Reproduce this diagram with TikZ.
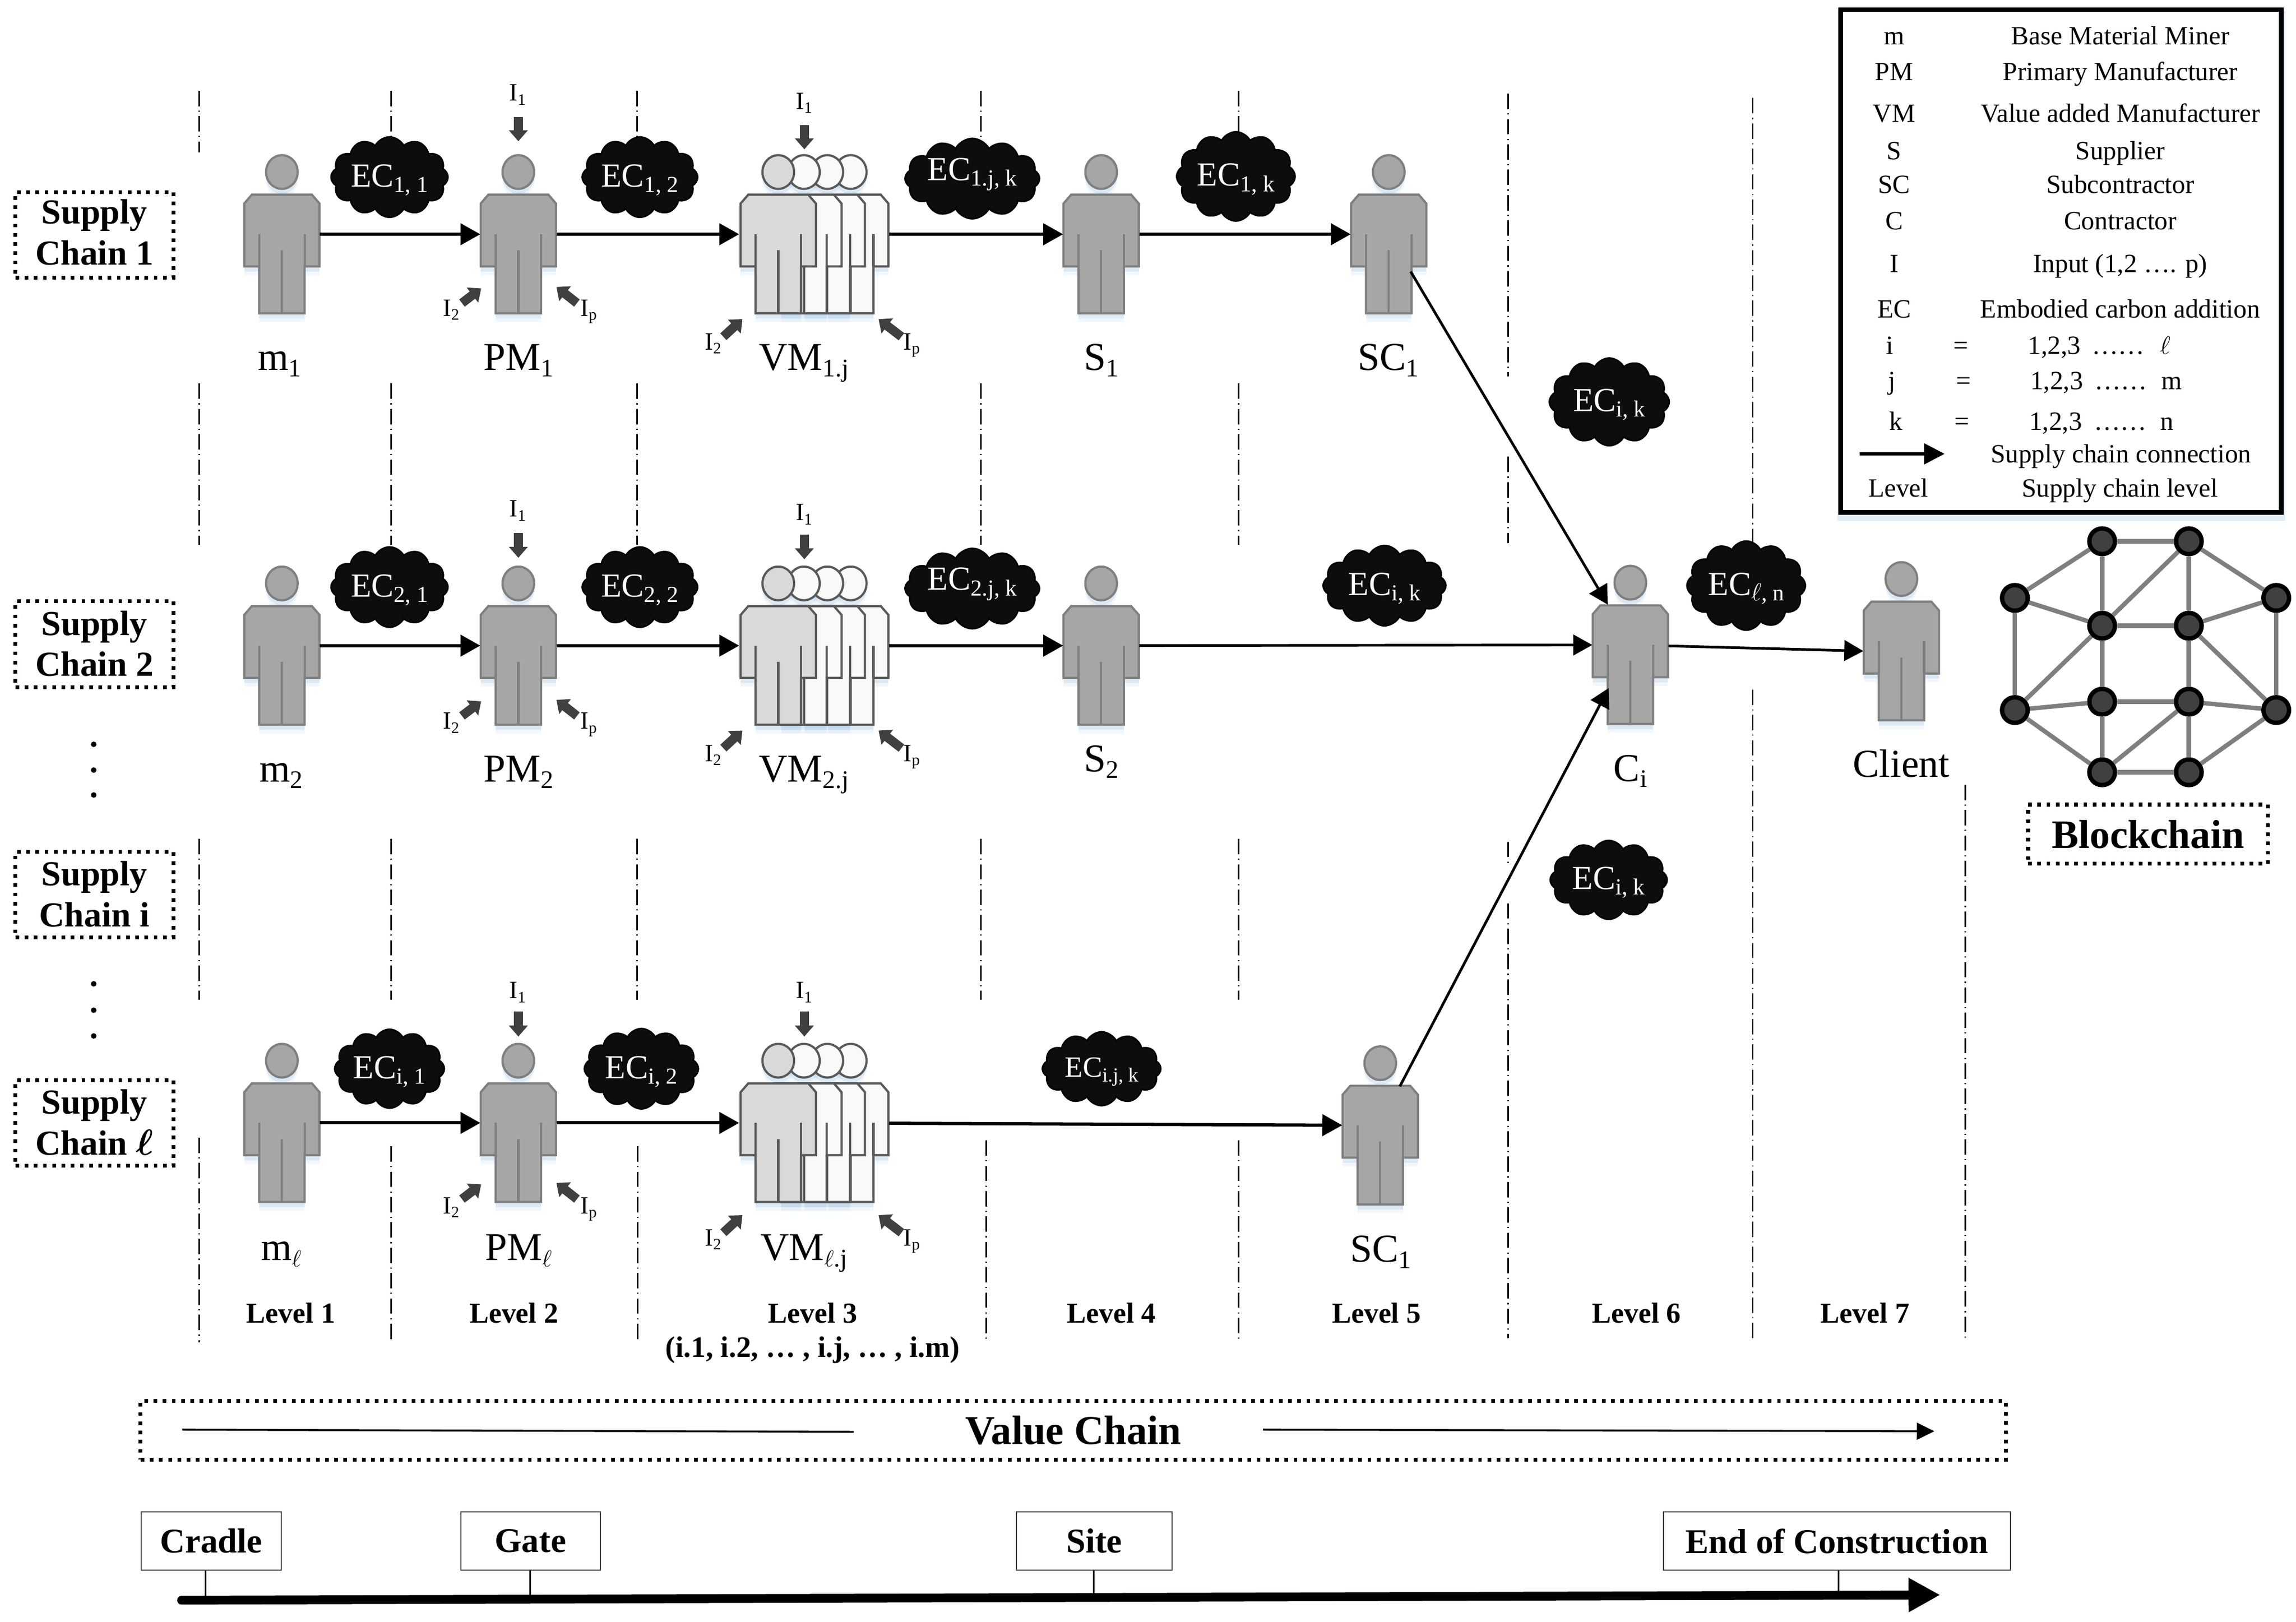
\documentclass[tikz,border=0pt]{standalone}
\usepackage{fontspec}
\setmainfont{Liberation Serif}
\usetikzlibrary{arrows.meta,shapes.symbols}
\definecolor{glow}{HTML}{9DC3E6}
\definecolor{figfill}{HTML}{A6A6A6}
\definecolor{figline}{HTML}{7F7F7F}
\definecolor{frontfill}{HTML}{D9D9D9}
\definecolor{backfill}{HTML}{F9F9F9}
\definecolor{grpline}{HTML}{595959}
\definecolor{inarrow}{HTML}{404040}
\newcommand\fs[1]{\fontsize{#1}{#1}\selectfont}
\newcommand\sbs[1]{\raisebox{-.16em}{\scalebox{.64}{#1}}}
\newcommand\ecsub[1]{\raisebox{-.16em}{\scalebox{.68}{#1}}}
\newcommand\figpath{(-20.5,27) -- (20.5,27) -- (25.7,33) -- (25.7,76) -- (15.5,76) -- (15.5,108) -- (-15.5,108) -- (-15.5,76) -- (-25.7,76) -- (-25.7,33) -- cycle (0,11.5) ellipse [x radius=10.8pt,y radius=11.5pt]}
\newcommand\figglow[2]{%
  \begin{scope}[shift={(#1,#2)}]
    \fill[glow,opacity=.13,shift={(0,6)}] \figpath;
    \fill[glow,opacity=.25,shift={(0,3.5)}] \figpath;
  \end{scope}}
\newcommand\figbody[4]{%
  \begin{scope}[shift={(#1,#2)}]
    \draw[fill=#3,draw=#4,line width=1.5pt,line join=miter] \figpath;
    \draw[draw=#4,line width=1.5pt] (-15.5,54) -- (-15.5,76) (15.5,54) -- (15.5,76) (0,65) -- (0,108);
  \end{scope}}
\newcommand\person[3]{%
  \figglow{#2}{#3}
  \figbody{#2}{#3}{figfill}{figline}
  \node[inner sep=0pt,outer sep=0pt,minimum width=52pt,minimum height=108pt] (#1) at (#2,#3+54) {};}
\newcommand\group[2]{%
  \figglow{581}{#2}\figglow{565}{#2}\figglow{549}{#2}\figglow{531.5}{#2}
  \figbody{581}{#2}{backfill}{grpline}
  \figbody{565}{#2}{backfill}{grpline}
  \figbody{549}{#2}{backfill}{grpline}
  \figbody{531.5}{#2}{frontfill}{grpline}
  \node[inner sep=0pt,outer sep=0pt,minimum width=102.5pt,minimum height=108pt] (#1) at (556,#2+54) {};}
\newcommand\ecloud[7]{\node[ecshape,minimum width=#4pt,minimum height=#5pt,label={[eclabel,#6]center:EC\ecsub{#7}}] (#1) at (#2,#3) {};}
\newcommand\vl[3]{\draw[levelline] (#1,#2) -- (#1,#3);}
\newcommand\inarr[5]{%
  \coordinate (#1a) at (#2,#3);
  \coordinate (#1b) at (#4,#5);
  \draw[inarr] (#1a) -- (#1b);}
% key, bottom offset, arrow y1, arrow y2, I1 baseline, I2/Ip baseline
\newcommand\pminputs[6]{%
  \inarr{#1d}{354}{#3}{354}{#4}
  \inarr{#1l}{315.5}{207+#2}{328.6}{197+#2}
  \inarr{#1r}{394}{207+#2}{380}{196+#2}
  \node[ilabel] (#1ione) at (353.5,#5) {I\sbs{1}};
  \node[ilabel] (#1itwo) at (308,#6) {I\sbs{2}};
  \node[ilabel] (#1ip) at (402,#6) {I\sbs{p}};}
\newcommand\vminputs[6]{%
  \inarr{#1d}{549.3}{#3}{549.3}{#4}
  \inarr{#1l}{494}{230+#2}{507}{218+#2}
  \inarr{#1r}{615.6}{230+#2}{600}{218+#2}
  \node[ilabel] (#1ione) at (549,#5) {I\sbs{1}};
  \node[ilabel] (#1itwo) at (487,#6) {I\sbs{2}};
  \node[ilabel] (#1ip) at (622.6,#6) {I\sbs{p}};}
\newcommand\lgrow[3]{%
  \node[lgtext] (lgl#1) at (1293.6,#1+6) {#2};
  \node[lgtext] (lgr#1) at (1448,#1+6) {#3};}
\newcommand\lgeq[8]{%
  \node[lgtext] (lge#1a) at (#2,#1+6) {#3};
  \node[lgtext] (lge#1b) at (#4,#1+6) {=};
  \node[lgtext] (lge#1c) at (#5,#1+6) {1,2,3};
  \node[lgtext] (lge#1d) at (#6,#1+6) {……};
  \node[lgtext] (lge#1e) at (#7,#1+6) {#8};}
\tikzset{
  conn/.style={line width=2.2pt,-{Triangle[length=13.5pt,width=14.5pt]}},
  connthin/.style={line width=1.8pt,-{Triangle[length=13pt,width=14pt]}},
  levelline/.style={line width=1pt,dash pattern=on 10.5pt off 3pt on .8pt off 3pt},
  ecshape/.style={cloud,cloud puffs=12,cloud puff arc=125,cloud ignores aspect,fill=black!95,draw=black,line width=1pt,inner sep=0pt},
  eclabel/.style={text=white,font=\fs{23},inner sep=0pt,yshift=-2pt},
  inarr/.style={line width=6.2pt,draw=inarrow,-{Triangle[length=7.5pt,width=12.5pt]}},
  ilabel/.style={anchor=base,font=\fs{17},inner sep=0pt},
  whois/.style={anchor=base,font=\fs{27},inner sep=0pt},
  levellabel/.style={anchor=base,font=\fs{19.7}\bfseries,inner sep=0pt},
  lgtext/.style={anchor=base,font=\fs{18},inner sep=0pt},
  dotbox/.style={draw=black,line width=2.6pt,dash pattern=on 2.5pt off 3.8pt,inner sep=0pt},
  chainbox/.style={dotbox,font=\fontsize{24}{28}\selectfont\bfseries,align=center,minimum width=108pt,minimum height=58.5pt},
  stagebox/.style={draw=black!75,line width=.7pt,font=\fs{23.7}\bfseries,minimum height=40pt,inner sep=0pt},
  stagetick/.style={line width=1.2pt},
  bnode/.style={circle,fill=inarrow,draw=black,line width=3pt,minimum size=17.5pt,inner sep=0pt},
  bedge/.style={line width=3pt,draw=figline},
}
\begin{document}
\begin{tikzpicture}[x=1pt,y=-1pt]
\useasboundingbox (0,0) rectangle (1568,1107.6);
\fill[white] (0,0) rectangle (1568,1107.6);

% level separators
\foreach \xx in {136,267,435,670,846} {\vl{\xx}{62}{104}\vl{\xx}{262}{372}\vl{\xx}{573}{683}}
\vl{136}{777}{917}\vl{267}{783}{915}\vl{435.5}{783}{916}\vl{673.5}{779}{916}\vl{846}{779}{916}
\vl{1030}{64}{257}\vl{1030}{312}{371}\vl{1030}{575}{590}\vl{1030}{617}{914}
\vl{1197}{67}{376}\vl{1197}{471}{916}
\vl{1342}{536}{916}

% supply chain labels
\node[chainbox] (chainA) at (64.5,160.5) {Supply\\Chain 1\rule[-4pt]{0pt}{0pt}};
\node[chainbox] (chainB) at (64.5,440) {Supply\\Chain 2\rule[-1pt]{0pt}{0pt}};
\node[chainbox] (chainC) at (64.5,611) {Supply\\Chain i\rule[-1pt]{0pt}{0pt}};
\node[chainbox] (chainD) at (64.5,767) {Supply\\Chain {\boldmath$\ell$}\rule[-1pt]{0pt}{0pt}};
\foreach \yy in {508.4,526,543,672,690,707.6} {\fill (64,\yy) circle [radius=1.9pt];}

% row 1
\person{mA}{192.5}{106}
\person{pmA}{354}{106}
\group{vmA}{106}
\person{sA}{752}{106}
\person{scA}{948.4}{106}
% row 2
\person{mB}{192.5}{387}
\person{pmB}{354}{387}
\group{vmB}{387}
\person{sB}{752}{387}
\person{cI}{1113.4}{386.5}
\person{client}{1298.5}{384}
% row 3
\person{mC}{192.5}{713}
\person{pmC}{354}{713}
\group{vmC}{713}
\person{scC}{942.6}{714.7}

% free ends of the slanted links
\coordinate (scAout) at (963.4,185.5);
\coordinate (cItop) at (1098,413);
\coordinate (scCout) at (956,742);
\coordinate (cIside) at (1098.6,470);
\coordinate (clientin) at (1272.5,444.7);

% connections
\draw[conn] (mA) -- (pmA);
\draw[conn] (pmA) -- (vmA);
\draw[conn] (vmA) -- (sA);
\draw[conn] (sA) -- (scA);
\draw[conn] (mB) -- (pmB);
\draw[conn] (pmB) -- (vmB);
\draw[conn] (vmB) -- (sB);
\draw[connthin] (sB) -- (cI);
\draw[connthin] (cI) -- (clientin);
\draw[conn] (mC) -- (pmC);
\draw[conn] (pmC) -- (vmC);
\draw[conn] (vmC) -- (scC);
\draw[connthin] (scAout) -- (cItop);
\draw[connthin] (scCout) -- (cIside);

% inputs
\pminputs{pA}{0}{80}{96.5}{69}{216}
\pminputs{pB}{282}{364}{381}{353}{498}
\pminputs{pC}{612}{691}{708}{682}{829}
\vminputs{vA}{0}{85.5}{102}{74.6}{239}
\vminputs{vB}{281}{365}{382}{355.6}{520}
\vminputs{vC}{612}{691}{708}{682}{851}

% clouds
\ecloud{ecA}{266}{121}{80}{55}{}{1, 1}
\ecloud{ecB}{437}{121}{79}{55}{}{1, 2}
\ecloud{ecC}{664}{122}{92}{55}{yshift=5pt}{1.j, k}
\ecloud{ecD}{844}{120.5}{81}{61}{}{1, k}
\ecloud{ecE}{1099}{274.5}{82}{60}{}{i, k}
\ecloud{ecF}{266}{401}{80}{55}{}{2, 1}
\ecloud{ecG}{437}{401}{79}{55}{}{2, 2}
\ecloud{ecH}{664}{402}{92}{55}{yshift=5pt}{2.j, k}
\ecloud{ecI}{945.5}{400}{84}{55}{}{i, k}
\ecloud{ecJ}{1192.5}{400}{81}{61}{}{$\ell$, n}
\ecloud{ecK}{1098.6}{601}{80}{54}{}{i, k}
\ecloud{ecL}{266}{730}{75}{54}{}{i, 1}
\ecloud{ecM}{438}{730}{78}{55}{}{i, 2}
\ecloud{ecN}{752.3}{730}{81}{50.5}{font=\fs{20}}{i.j, k}

% actor labels
\node[whois] (tmA) at (191,253) {m\sbs{1}};
\node[whois] (tpA) at (354,253) {PM\sbs{1}};
\node[whois] (tvA) at (549,253) {VM\sbs{1.j}};
\node[whois] (tsA) at (752,253) {S\sbs{1}};
\node[whois] (tcA) at (948,253) {SC\sbs{1}};
\node[whois] (tmB) at (192,534) {m\sbs{2}};
\node[whois] (tpB) at (354,534) {PM\sbs{2}};
\node[whois] (tvB) at (549,534) {VM\sbs{2.j}};
\node[whois] (tsB) at (752,527) {S\sbs{2}};
\node[whois] (tcI) at (1113.4,533.5) {C\sbs{i}};
\node[whois] (tcl) at (1298.5,530.7) {Client};
\node[whois] (tmC) at (192,861) {m\sbs{$\ell$}};
\node[whois] (tpC) at (354,861) {PM\sbs{$\ell$}};
\node[whois] (tvC) at (549,861) {VM\sbs{$\ell$.j}};
\node[whois] (tcC) at (943,862) {SC\sbs{1}};

% level labels
\node[levellabel] (lvA) at (198.6,903.4) {Level 1};
\node[levellabel] (lvB) at (351,903.4) {Level 2};
\node[levellabel] (lvC) at (555,903.4) {Level 3};
\node[levellabel,font=\fs{20.2}\bfseries] (lvCb) at (555,927) {(i.1, i.2, … , i.j, … , i.m)};
\node[levellabel] (lvD) at (759,903.4) {Level 4};
\node[levellabel] (lvE) at (940,903.4) {Level 5};
\node[levellabel] (lvF) at (1117.5,903.4) {Level 6};
\node[levellabel] (lvG) at (1273.6,903.4) {Level 7};

% legend
\draw[glow,opacity=.3,line width=5pt] (1257,10) rectangle (1558,353);
\node[draw=black,line width=3.1pt,fill=white,minimum width=301pt,minimum height=343.5pt,inner sep=0pt] (legend) at (1407.5,178.25) {};
\lgrow{24.5}{m}{Base Material Miner}
\lgrow{49}{PM}{Primary Manufacturer}
\lgrow{77.5}{VM}{Value added Manufacturer}
\lgrow{103}{S}{Supplier}
\lgrow{126}{SC}{Subcontractor}
\lgrow{151}{C}{Contractor}
\lgrow{180}{I}{Input (1,2 …. p)}
\lgrow{211}{EC}{Embodied carbon addition}
\lgeq{236}{1290.5}{i}{1339}{1403}{1446.6}{1478.6}{$\ell$}
\lgeq{260}{1292}{j}{1341}{1404.6}{1448.5}{1483}{m}
\lgeq{287.6}{1294.7}{k}{1340}{1403.8}{1448}{1480}{n}
\coordinate (lgarrA) at (1270,310);
\coordinate (lgarrB) at (1328,310);
\draw[line width=2.2pt,-{Triangle[length=14pt,width=14pt]}] (lgarrA) -- (lgarrB);
\node[lgtext] (lgconn) at (1448.5,316) {Supply chain connection};
\node[lgtext] (lglevel) at (1296.4,339.5) {Level};
\node[lgtext] (lglevelr) at (1447.7,339.5) {Supply chain level};

% blockchain
\node[bnode] (bA) at (1435.6,369.7) {};
\node[bnode] (bB) at (1494.8,369.7) {};
\node[bnode] (bC) at (1376,408.4) {};
\node[bnode] (bD) at (1554.5,408.4) {};
\node[bnode] (bE) at (1435.6,427.4) {};
\node[bnode] (bF) at (1494.8,427.4) {};
\node[bnode] (bG) at (1376,485) {};
\node[bnode] (bH) at (1554.5,485) {};
\node[bnode] (bI) at (1435.6,479.3) {};
\node[bnode] (bJ) at (1494.8,479.3) {};
\node[bnode] (bK) at (1435.6,527.5) {};
\node[bnode] (bL) at (1494.8,527.5) {};
\foreach \a/\b in {bA/bB,bA/bC,bA/bE,bB/bE,bB/bF,bB/bD,bC/bE,bC/bG,bD/bF,bD/bH,bE/bF,bE/bG,bE/bI,bF/bJ,bF/bH,bG/bI,bG/bK,bH/bJ,bH/bL,bI/bJ,bI/bK,bJ/bK,bJ/bL,bK/bL}
  {\draw[bedge] (\a) -- (\b);}
\node[dotbox,minimum width=163.7pt,minimum height=40.5pt,font=\fs{27.5}\bfseries] (blockbox) at (1466.9,569.8) {Blockchain};

% value chain
\node[dotbox,minimum width=1274pt,minimum height=40pt,font=\fs{28}\bfseries] (valuebox) at (733,977) {Value Chain};
\coordinate (vlA) at (124.5,976.5);
\coordinate (vlB) at (583,978);
\coordinate (vlC) at (862.5,976.5);
\coordinate (vlD) at (1321,977.6);
\draw[line width=1.3pt] (vlA) -- (vlB);
\draw[line width=1.3pt,-{Triangle[length=12pt,width=11.5pt]}] (vlC) -- (vlD);

% life-cycle stages
\node[stagebox,minimum width=95.6pt] (cradle) at (144.2,1052.6) {Cradle};
\node[stagebox,minimum width=95.4pt] (gate) at (362.3,1052.6) {Gate};
\node[stagebox,minimum width=106.5pt] (site) at (747.25,1052.6) {Site};
\node[stagebox,minimum width=237pt] (endc) at (1254.5,1052.6) {End of Construction};
\coordinate (tickA) at (140.4,1092);
\coordinate (tickB) at (362,1091);
\coordinate (tickC) at (747,1090);
\coordinate (tickD) at (1255.5,1090);
\draw[stagetick] (tickA) -- (tickA |- cradle.south);
\draw[stagetick] (tickB) -- (tickB |- gate.south);
\draw[stagetick] (tickC) -- (tickC |- site.south);
\draw[stagetick] (tickD) -- (tickD |- endc.south);
\coordinate (axisA) at (124,1093);
\coordinate (axisB) at (1325,1089.4);
\draw[line width=6pt,line cap=round,-{Triangle[length=21.6pt,width=22pt]}] (axisA) -- (axisB);
\end{tikzpicture}
\end{document}
